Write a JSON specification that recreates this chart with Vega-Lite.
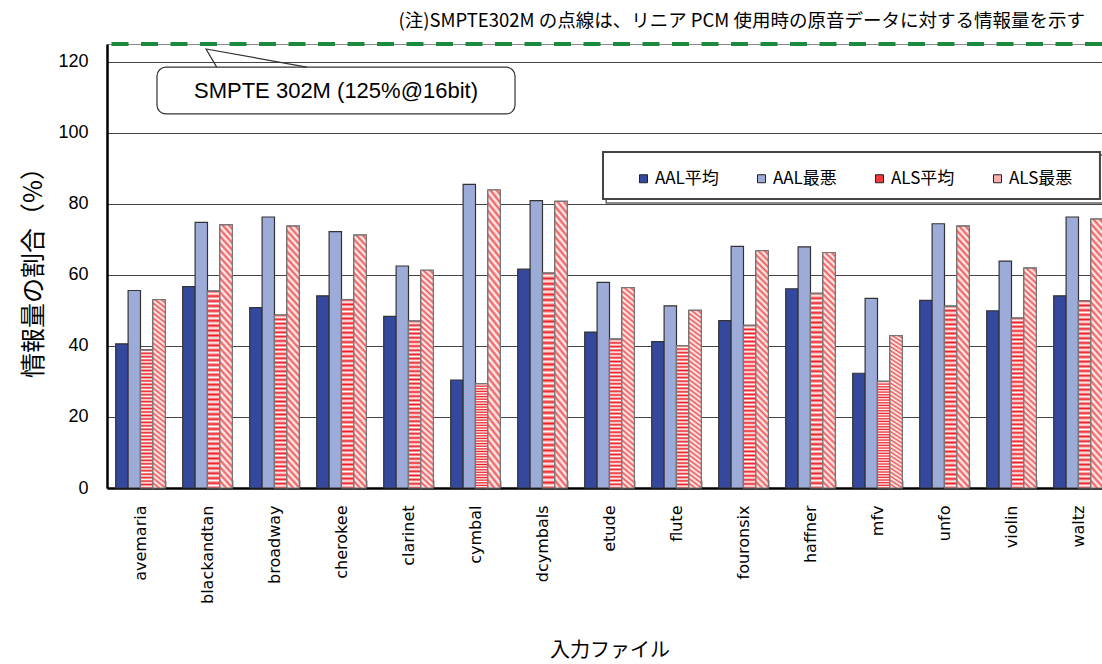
{
 "$schema": "https://vega.github.io/schema/vega-lite/v6.json",
 "width": 995,
 "height": 444,
 "autosize": {"type": "none"},
 "padding": {"left": 107, "top": 44, "right": 0, "bottom": 176},
 "background": "white",
 "config": {"view": {"stroke": "#888", "strokeWidth": 1}},
 "title": {"text": "(注)SMPTE302M の点線は、リニア PCM 使用時の原音データに対する情報量を示す", "anchor": "end", "frame": "group", "font": "Noto Sans CJK JP", "fontSize": 18.5, "fontWeight": "normal", "color": "#000", "offset": 12, "dx": -17},
 "resolve": {"scale": {"x": "independent"}},
 "layer": [
  {
   "data": {"values": [
    {"file": "avemaria", "series": "AAL平均", "value": 40.6}, {"file": "avemaria", "series": "AAL最悪", "value": 55.6}, {"file": "avemaria", "series": "ALS平均", "value": 38.9}, {"file": "avemaria", "series": "ALS最悪", "value": 53.0},
    {"file": "blackandtan", "series": "AAL平均", "value": 56.7}, {"file": "blackandtan", "series": "AAL最悪", "value": 74.8}, {"file": "blackandtan", "series": "ALS平均", "value": 55.4}, {"file": "blackandtan", "series": "ALS最悪", "value": 74.1},
    {"file": "broadway", "series": "AAL平均", "value": 50.8}, {"file": "broadway", "series": "AAL最悪", "value": 76.3}, {"file": "broadway", "series": "ALS平均", "value": 48.7}, {"file": "broadway", "series": "ALS最悪", "value": 73.7},
    {"file": "cherokee", "series": "AAL平均", "value": 54.1}, {"file": "cherokee", "series": "AAL最悪", "value": 72.2}, {"file": "cherokee", "series": "ALS平均", "value": 53.0}, {"file": "cherokee", "series": "ALS最悪", "value": 71.2},
    {"file": "clarinet", "series": "AAL平均", "value": 48.3}, {"file": "clarinet", "series": "AAL最悪", "value": 62.5}, {"file": "clarinet", "series": "ALS平均", "value": 47.0}, {"file": "clarinet", "series": "ALS最悪", "value": 61.3},
    {"file": "cymbal", "series": "AAL平均", "value": 30.4}, {"file": "cymbal", "series": "AAL最悪", "value": 85.5}, {"file": "cymbal", "series": "ALS平均", "value": 29.4}, {"file": "cymbal", "series": "ALS最悪", "value": 83.9},
    {"file": "dcymbals", "series": "AAL平均", "value": 61.6}, {"file": "dcymbals", "series": "AAL最悪", "value": 80.9}, {"file": "dcymbals", "series": "ALS平均", "value": 60.5}, {"file": "dcymbals", "series": "ALS最悪", "value": 80.7},
    {"file": "etude", "series": "AAL平均", "value": 43.9}, {"file": "etude", "series": "AAL最悪", "value": 57.9}, {"file": "etude", "series": "ALS平均", "value": 41.9}, {"file": "etude", "series": "ALS最悪", "value": 56.4},
    {"file": "flute", "series": "AAL平均", "value": 41.2}, {"file": "flute", "series": "AAL最悪", "value": 51.3}, {"file": "flute", "series": "ALS平均", "value": 40.1}, {"file": "flute", "series": "ALS最悪", "value": 50.0},
    {"file": "fouronsix", "series": "AAL平均", "value": 47.1}, {"file": "fouronsix", "series": "AAL最悪", "value": 68.0}, {"file": "fouronsix", "series": "ALS平均", "value": 45.8}, {"file": "fouronsix", "series": "ALS最悪", "value": 66.8},
    {"file": "haffner", "series": "AAL平均", "value": 56.1}, {"file": "haffner", "series": "AAL最悪", "value": 67.9}, {"file": "haffner", "series": "ALS平均", "value": 54.8}, {"file": "haffner", "series": "ALS最悪", "value": 66.3},
    {"file": "mfv", "series": "AAL平均", "value": 32.3}, {"file": "mfv", "series": "AAL最悪", "value": 53.4}, {"file": "mfv", "series": "ALS平均", "value": 30.0}, {"file": "mfv", "series": "ALS最悪", "value": 42.9},
    {"file": "unfo", "series": "AAL平均", "value": 52.8}, {"file": "unfo", "series": "AAL最悪", "value": 74.4}, {"file": "unfo", "series": "ALS平均", "value": 51.2}, {"file": "unfo", "series": "ALS最悪", "value": 73.7},
    {"file": "violin", "series": "AAL平均", "value": 49.9}, {"file": "violin", "series": "AAL最悪", "value": 63.9}, {"file": "violin", "series": "ALS平均", "value": 47.8}, {"file": "violin", "series": "ALS最悪", "value": 61.9},
    {"file": "waltz", "series": "AAL平均", "value": 54.1}, {"file": "waltz", "series": "AAL最悪", "value": 76.3}, {"file": "waltz", "series": "ALS平均", "value": 52.7}, {"file": "waltz", "series": "ALS最悪", "value": 75.7}
   ]},
   "encoding": {
    "x": {"field": "file", "type": "nominal", "sort": null,
     "scale": {"range": [0, 1005], "paddingInner": 0.26, "paddingOuter": 0.13},
     "axis": {"title": "入力ファイル", "titleFont": "Noto Sans CJK JP", "titleFontSize": 20, "titleFontWeight": "normal", "titleColor": "#000", "titlePadding": 37,
      "labelAngle": -90, "labelAlign": "right", "labelBaseline": "middle", "labelFont": "DejaVu Sans", "labelFontSize": 16, "labelColor": "#000", "labelPadding": 25,
      "tickBand": "extent", "tickSize": -8, "tickColor": "#000", "tickWidth": 1.5, "domainColor": "#000", "domainWidth": 2.5, "grid": false}},
    "xOffset": {"field": "series", "type": "nominal", "sort": null, "scale": {"domain": ["AAL平均", "AAL最悪", "ALS平均", "ALS最悪"], "paddingInner": 0, "paddingOuter": 0}},
    "y": {"field": "value", "type": "quantitative",
     "scale": {"domain": [0, 125], "nice": false, "zero": true},
     "axis": {"values": [0, 20, 40, 60, 80, 100, 120], "title": "情報量の割合（%）", "titleFont": "Noto Sans CJK JP", "titleFontSize": 25, "titleFontWeight": "normal", "titleColor": "#000", "titlePadding": 11,
      "labelFont": "Liberation Sans", "labelFontSize": 18, "labelColor": "#000", "labelPadding": 19, "ticks": false,
      "grid": true, "gridColor": "#444", "gridWidth": 1.2, "domainColor": "#000", "domainWidth": 2.5}}
   },
   "layer": [
    {"mark": {"type": "bar", "stroke": "#333", "strokeWidth": 1.2},
     "encoding": {"color": {"field": "series", "type": "nominal",
      "scale": {"domain": ["AAL平均", "AAL最悪", "ALS平均", "ALS最悪"], "range": ["#34499e", "#9dabd9", "#ec3a3f", "#f7b0b0"]},
      "legend": {"orient": "none", "legendX": 528, "legendY": 126, "direction": "horizontal", "columns": 4, "title": null, "symbolType": "square", "symbolSize": 64, "symbolStrokeColor": "#222", "symbolStrokeWidth": 1, "labelFont": "Noto Sans CJK JP", "labelFontSize": 17, "labelColor": "#000", "labelOffset": 3, "columnPadding": 34, "padding": 0, "gridAlign": "all"}}}},
    {"transform": [{"filter": "datum.series === 'ALS平均'"}],
     "mark": {"type": "bar", "stroke": "#777", "strokeWidth": 1.2, "fill": {"gradient": "linear", "x1": 0, "y1": 0, "x2": 0, "y2": 1, "stops": [
      {"offset": 0, "color": "#ec1c24"}, {"offset": 0.0125, "color": "#ffffff"}, {"offset": 0.025, "color": "#ec1c24"}, {"offset": 0.0375, "color": "#ffffff"}, {"offset": 0.05, "color": "#ec1c24"}, {"offset": 0.0625, "color": "#ffffff"}, {"offset": 0.075, "color": "#ec1c24"}, {"offset": 0.0875, "color": "#ffffff"},
      {"offset": 0.1, "color": "#ec1c24"}, {"offset": 0.1125, "color": "#ffffff"}, {"offset": 0.125, "color": "#ec1c24"}, {"offset": 0.1375, "color": "#ffffff"}, {"offset": 0.15, "color": "#ec1c24"}, {"offset": 0.1625, "color": "#ffffff"}, {"offset": 0.175, "color": "#ec1c24"}, {"offset": 0.1875, "color": "#ffffff"},
      {"offset": 0.2, "color": "#ec1c24"}, {"offset": 0.2125, "color": "#ffffff"}, {"offset": 0.225, "color": "#ec1c24"}, {"offset": 0.2375, "color": "#ffffff"}, {"offset": 0.25, "color": "#ec1c24"}, {"offset": 0.2625, "color": "#ffffff"}, {"offset": 0.275, "color": "#ec1c24"}, {"offset": 0.2875, "color": "#ffffff"},
      {"offset": 0.3, "color": "#ec1c24"}, {"offset": 0.3125, "color": "#ffffff"}, {"offset": 0.325, "color": "#ec1c24"}, {"offset": 0.3375, "color": "#ffffff"}, {"offset": 0.35, "color": "#ec1c24"}, {"offset": 0.3625, "color": "#ffffff"}, {"offset": 0.375, "color": "#ec1c24"}, {"offset": 0.3875, "color": "#ffffff"},
      {"offset": 0.4, "color": "#ec1c24"}, {"offset": 0.4125, "color": "#ffffff"}, {"offset": 0.425, "color": "#ec1c24"}, {"offset": 0.4375, "color": "#ffffff"}, {"offset": 0.45, "color": "#ec1c24"}, {"offset": 0.4625, "color": "#ffffff"}, {"offset": 0.475, "color": "#ec1c24"}, {"offset": 0.4875, "color": "#ffffff"},
      {"offset": 0.5, "color": "#ec1c24"}, {"offset": 0.5125, "color": "#ffffff"}, {"offset": 0.525, "color": "#ec1c24"}, {"offset": 0.5375, "color": "#ffffff"}, {"offset": 0.55, "color": "#ec1c24"}, {"offset": 0.5625, "color": "#ffffff"}, {"offset": 0.575, "color": "#ec1c24"}, {"offset": 0.5875, "color": "#ffffff"},
      {"offset": 0.6, "color": "#ec1c24"}, {"offset": 0.6125, "color": "#ffffff"}, {"offset": 0.625, "color": "#ec1c24"}, {"offset": 0.6375, "color": "#ffffff"}, {"offset": 0.65, "color": "#ec1c24"}, {"offset": 0.6625, "color": "#ffffff"}, {"offset": 0.675, "color": "#ec1c24"}, {"offset": 0.6875, "color": "#ffffff"},
      {"offset": 0.7, "color": "#ec1c24"}, {"offset": 0.7125, "color": "#ffffff"}, {"offset": 0.725, "color": "#ec1c24"}, {"offset": 0.7375, "color": "#ffffff"}, {"offset": 0.75, "color": "#ec1c24"}, {"offset": 0.7625, "color": "#ffffff"}, {"offset": 0.775, "color": "#ec1c24"}, {"offset": 0.7875, "color": "#ffffff"},
      {"offset": 0.8, "color": "#ec1c24"}, {"offset": 0.8125, "color": "#ffffff"}, {"offset": 0.825, "color": "#ec1c24"}, {"offset": 0.8375, "color": "#ffffff"}, {"offset": 0.85, "color": "#ec1c24"}, {"offset": 0.8625, "color": "#ffffff"}, {"offset": 0.875, "color": "#ec1c24"}, {"offset": 0.8875, "color": "#ffffff"},
      {"offset": 0.9, "color": "#ec1c24"}, {"offset": 0.9125, "color": "#ffffff"}, {"offset": 0.925, "color": "#ec1c24"}, {"offset": 0.9375, "color": "#ffffff"}, {"offset": 0.95, "color": "#ec1c24"}, {"offset": 0.9625, "color": "#ffffff"}, {"offset": 0.975, "color": "#ec1c24"}, {"offset": 0.9875, "color": "#ffffff"},
      {"offset": 1, "color": "#ec1c24"}]}}},
    {"transform": [{"filter": "datum.series === 'ALS最悪'"}],
     "mark": {"type": "bar", "stroke": "#777", "strokeWidth": 1.2, "fill": {"gradient": "linear", "x1": 0.055, "y1": -0.06, "x2": 0, "y2": 1, "stops": [
      {"offset": 0, "color": "#f25555"}, {"offset": 0.0125, "color": "#ffffff"}, {"offset": 0.025, "color": "#f25555"}, {"offset": 0.0375, "color": "#ffffff"}, {"offset": 0.05, "color": "#f25555"}, {"offset": 0.0625, "color": "#ffffff"}, {"offset": 0.075, "color": "#f25555"}, {"offset": 0.0875, "color": "#ffffff"},
      {"offset": 0.1, "color": "#f25555"}, {"offset": 0.1125, "color": "#ffffff"}, {"offset": 0.125, "color": "#f25555"}, {"offset": 0.1375, "color": "#ffffff"}, {"offset": 0.15, "color": "#f25555"}, {"offset": 0.1625, "color": "#ffffff"}, {"offset": 0.175, "color": "#f25555"}, {"offset": 0.1875, "color": "#ffffff"},
      {"offset": 0.2, "color": "#f25555"}, {"offset": 0.2125, "color": "#ffffff"}, {"offset": 0.225, "color": "#f25555"}, {"offset": 0.2375, "color": "#ffffff"}, {"offset": 0.25, "color": "#f25555"}, {"offset": 0.2625, "color": "#ffffff"}, {"offset": 0.275, "color": "#f25555"}, {"offset": 0.2875, "color": "#ffffff"},
      {"offset": 0.3, "color": "#f25555"}, {"offset": 0.3125, "color": "#ffffff"}, {"offset": 0.325, "color": "#f25555"}, {"offset": 0.3375, "color": "#ffffff"}, {"offset": 0.35, "color": "#f25555"}, {"offset": 0.3625, "color": "#ffffff"}, {"offset": 0.375, "color": "#f25555"}, {"offset": 0.3875, "color": "#ffffff"},
      {"offset": 0.4, "color": "#f25555"}, {"offset": 0.4125, "color": "#ffffff"}, {"offset": 0.425, "color": "#f25555"}, {"offset": 0.4375, "color": "#ffffff"}, {"offset": 0.45, "color": "#f25555"}, {"offset": 0.4625, "color": "#ffffff"}, {"offset": 0.475, "color": "#f25555"}, {"offset": 0.4875, "color": "#ffffff"},
      {"offset": 0.5, "color": "#f25555"}, {"offset": 0.5125, "color": "#ffffff"}, {"offset": 0.525, "color": "#f25555"}, {"offset": 0.5375, "color": "#ffffff"}, {"offset": 0.55, "color": "#f25555"}, {"offset": 0.5625, "color": "#ffffff"}, {"offset": 0.575, "color": "#f25555"}, {"offset": 0.5875, "color": "#ffffff"},
      {"offset": 0.6, "color": "#f25555"}, {"offset": 0.6125, "color": "#ffffff"}, {"offset": 0.625, "color": "#f25555"}, {"offset": 0.6375, "color": "#ffffff"}, {"offset": 0.65, "color": "#f25555"}, {"offset": 0.6625, "color": "#ffffff"}, {"offset": 0.675, "color": "#f25555"}, {"offset": 0.6875, "color": "#ffffff"},
      {"offset": 0.7, "color": "#f25555"}, {"offset": 0.7125, "color": "#ffffff"}, {"offset": 0.725, "color": "#f25555"}, {"offset": 0.7375, "color": "#ffffff"}, {"offset": 0.75, "color": "#f25555"}, {"offset": 0.7625, "color": "#ffffff"}, {"offset": 0.775, "color": "#f25555"}, {"offset": 0.7875, "color": "#ffffff"},
      {"offset": 0.8, "color": "#f25555"}, {"offset": 0.8125, "color": "#ffffff"}, {"offset": 0.825, "color": "#f25555"}, {"offset": 0.8375, "color": "#ffffff"}, {"offset": 0.85, "color": "#f25555"}, {"offset": 0.8625, "color": "#ffffff"}, {"offset": 0.875, "color": "#f25555"}, {"offset": 0.8875, "color": "#ffffff"},
      {"offset": 0.9, "color": "#f25555"}, {"offset": 0.9125, "color": "#ffffff"}, {"offset": 0.925, "color": "#f25555"}, {"offset": 0.9375, "color": "#ffffff"}, {"offset": 0.95, "color": "#f25555"}, {"offset": 0.9625, "color": "#ffffff"}, {"offset": 0.975, "color": "#f25555"}, {"offset": 0.9875, "color": "#ffffff"},
      {"offset": 1, "color": "#f25555"}]}}}
   ]
  },
  {"data": {"values": [{"value": 125}]},
   "mark": {"type": "rule", "color": "#1c8a3e", "strokeWidth": 4, "strokeDash": [17, 12.5]},
   "encoding": {"y": {"field": "value", "type": "quantitative"}}},
  {
   "layer": [
    {"data": {"values": [{"x": 7.45, "x2": 14.95, "value": 93.75, "value2": 80.24}]},
     "mark": {"type": "rect", "fill": "#ffffff", "stroke": "#666", "strokeWidth": 1.5},
     "encoding": {"x": {"field": "x", "type": "quantitative", "scale": {"domain": [0, 15], "range": [0, 1005], "nice": false, "zero": false}, "axis": null}, "x2": {"field": "x2"}, "y": {"field": "value", "type": "quantitative"}, "y2": {"field": "value2"}}},
    {"data": {"values": [{"x": 7.403, "x2": 14.82, "value": 94.6, "value2": 81.36}]},
     "mark": {"type": "rect", "fill": "#ffffff", "stroke": "#444", "strokeWidth": 2},
     "encoding": {"x": {"field": "x", "type": "quantitative", "scale": {"domain": [0, 15], "range": [0, 1005], "nice": false, "zero": false}, "axis": null}, "x2": {"field": "x2"}, "y": {"field": "value", "type": "quantitative"}, "y2": {"field": "value2"}}},
    {"data": {"values": [{"x": 0.746, "x2": 6.09, "value": 118.5, "value2": 105.3}]},
     "mark": {"type": "rect", "fill": "#ffffff", "stroke": "#333", "strokeWidth": 1.2, "cornerRadius": 9},
     "encoding": {"x": {"field": "x", "type": "quantitative", "scale": {"domain": [0, 15], "range": [0, 1005], "nice": false, "zero": false}, "axis": null}, "x2": {"field": "x2"}, "y": {"field": "value", "type": "quantitative"}, "y2": {"field": "value2"}}},
    {"data": {"values": [{"x": 1.637, "value": 118.5, "o": 1}, {"x": 1.478, "value": 123.6, "o": 2}, {"x": 2.981, "value": 118.5, "o": 3}]},
     "mark": {"type": "line", "stroke": "#333", "strokeWidth": 1.2},
     "encoding": {"x": {"field": "x", "type": "quantitative", "scale": {"domain": [0, 15], "range": [0, 1005], "nice": false, "zero": false}, "axis": null}, "y": {"field": "value", "type": "quantitative"}, "order": {"field": "o"}}},
    {"data": {"values": [{"x": 3.418, "value": 111.8, "label": "SMPTE 302M (125%@16bit)"}]},
     "mark": {"type": "text", "font": "Liberation Sans", "fontSize": 22, "color": "#000", "align": "center", "baseline": "middle"},
     "encoding": {"x": {"field": "x", "type": "quantitative", "scale": {"domain": [0, 15], "range": [0, 1005], "nice": false, "zero": false}, "axis": null}, "y": {"field": "value", "type": "quantitative"}, "text": {"field": "label"}}}
   ]
  }
 ]
}
